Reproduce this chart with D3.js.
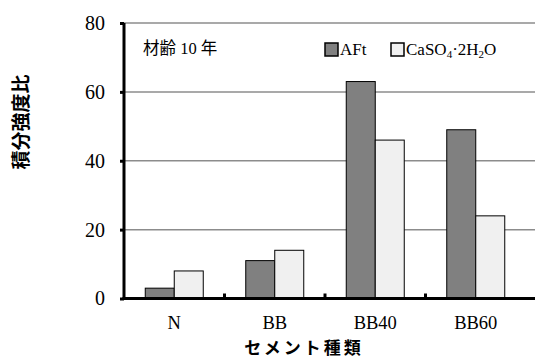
<!DOCTYPE html>
<html>
<head>
<meta charset="utf-8">
<script src="https://cdn.jsdelivr.net/npm/d3@7"></script>
<style>
  html, body { margin: 0; padding: 0; background: #fff; }
  svg { display: block; }
</style>
</head>
<body>
<svg id="chart" width="535" height="359"></svg>
<script>
const categories = ["N", "BB", "BB40", "BB60"];
const seriesNames = ["AFt", "CaSO4·2H2O"];
const aftValues = [3, 11, 63, 49];
const caso4Values = [8, 14, 46, 24];
const yTicks = [0, 20, 40, 60, 80];

const svg = d3.select("#chart");
const serif = "'Liberation Serif', 'Times New Roman', 'Noto Sans CJK JP', serif";
const cjk = "'Noto Sans CJK JP', 'Noto Sans', sans-serif";

const plotLeft = 124, plotRight = 526, plotTop = 23, plotBottom = 298.5;

const x = d3.scaleBand().domain(categories).range([plotLeft, plotRight]);
const y = d3.scaleLinear().domain([0, 80]).range([plotBottom, plotTop]);
const barW = 29;

// gridlines
svg.append("g").selectAll("line").data(yTicks.filter(d => d > 0)).join("line")
  .attr("x1", plotLeft).attr("x2", 535)
  .attr("y1", d => y(d)).attr("y2", d => y(d))
  .attr("stroke", "#8c8c8c").attr("stroke-width", 1.5);

// bars
const data = categories.map((c, i) => ({c, vals: [aftValues[i], caso4Values[i]]}));
const fills = ["#808080", "#f0f0f0"];
const g = svg.append("g");
data.forEach(d => {
  d.vals.forEach((v, j) => {
    const cx = x(d.c) + x.bandwidth() / 2;
    g.append("rect")
      .attr("x", cx - barW + j * barW)
      .attr("y", y(v))
      .attr("width", barW)
      .attr("height", y(0) - y(v))
      .attr("fill", fills[j])
      .attr("stroke", "#000")
      .attr("stroke-width", 1);
  });
});

// y axis
const yAxis = d3.axisLeft(y).tickValues(yTicks).tickSize(4).tickFormat(d3.format("d"));
const ya = svg.append("g").attr("transform", `translate(${plotLeft},0)`).call(yAxis);
ya.select(".domain").attr("stroke", "#000").attr("stroke-width", 3)
  .attr("d", `M0,${plotTop}V${plotBottom}`);
ya.selectAll(".tick line").attr("stroke", "#000").attr("stroke-width", 3);
ya.selectAll(".tick text").attr("x", -19).attr("font-family", serif).attr("font-size", 20).attr("fill", "#000");

// x axis
const xa = svg.append("g").attr("transform", `translate(0,${plotBottom})`);
xa.append("line").attr("x1", plotLeft - 1.5).attr("x2", 535).attr("y1", 0).attr("y2", 0)
  .attr("stroke", "#000").attr("stroke-width", 3);
xa.selectAll("line.sep").data(categories.slice(1)).join("line").attr("class", "sep")
  .attr("x1", d => x(d)).attr("x2", d => x(d)).attr("y1", 0).attr("y2", -5)
  .attr("stroke", "#000").attr("stroke-width", 3);
xa.selectAll("text").data(categories).join("text")
  .attr("x", d => x(d) + x.bandwidth() / 2)
  .attr("y", 30.5)
  .attr("text-anchor", "middle")
  .attr("font-family", serif).attr("font-size", 18.5).attr("fill", "#000")
  .text(d => d);

// axis titles
svg.append("text").attr("x", 304).attr("y", 353.5).attr("text-anchor", "middle")
  .attr("font-family", cjk).attr("font-weight", "bold").attr("font-size", 17)
  .attr("letter-spacing", 3)
  .attr("fill", "#000").text("セメント種類");
svg.append("text").attr("transform", "translate(28,122) rotate(-90)").attr("text-anchor", "middle")
  .attr("font-family", cjk).attr("font-weight", "bold").attr("font-size", 19)
  .attr("fill", "#000").text("積分強度比");

// annotation
svg.append("text").attr("x", 143).attr("y", 54)
  .attr("font-family", serif).attr("font-size", 16.5).attr("fill", "#000")
  .text("材齢 10 年");

// legend
const lg = svg.append("g");
const legendX = [325, 391];
seriesNames.forEach((n, j) => {
  lg.append("rect").attr("x", legendX[j]).attr("y", 43).attr("width", 13).attr("height", 13)
    .attr("fill", fills[j]).attr("stroke", "#000").attr("stroke-width", 1.5);
});
lg.append("text").attr("x", legendX[0] + 15).attr("y", 55)
  .attr("font-family", serif).attr("font-size", 17).attr("fill", "#000").text(seriesNames[0]);
const t2 = lg.append("text").attr("x", legendX[1] + 15).attr("y", 55)
  .attr("font-family", serif).attr("font-size", 17).attr("fill", "#000");
t2.append("tspan").text("CaSO");
t2.append("tspan").attr("font-size", 11).attr("dy", 3).text("4");
t2.append("tspan").attr("dy", -3).text("·2H");
t2.append("tspan").attr("font-size", 11).attr("dy", 3).text("2");
t2.append("tspan").attr("dy", -3).text("O");
</script>
</body>
</html>
